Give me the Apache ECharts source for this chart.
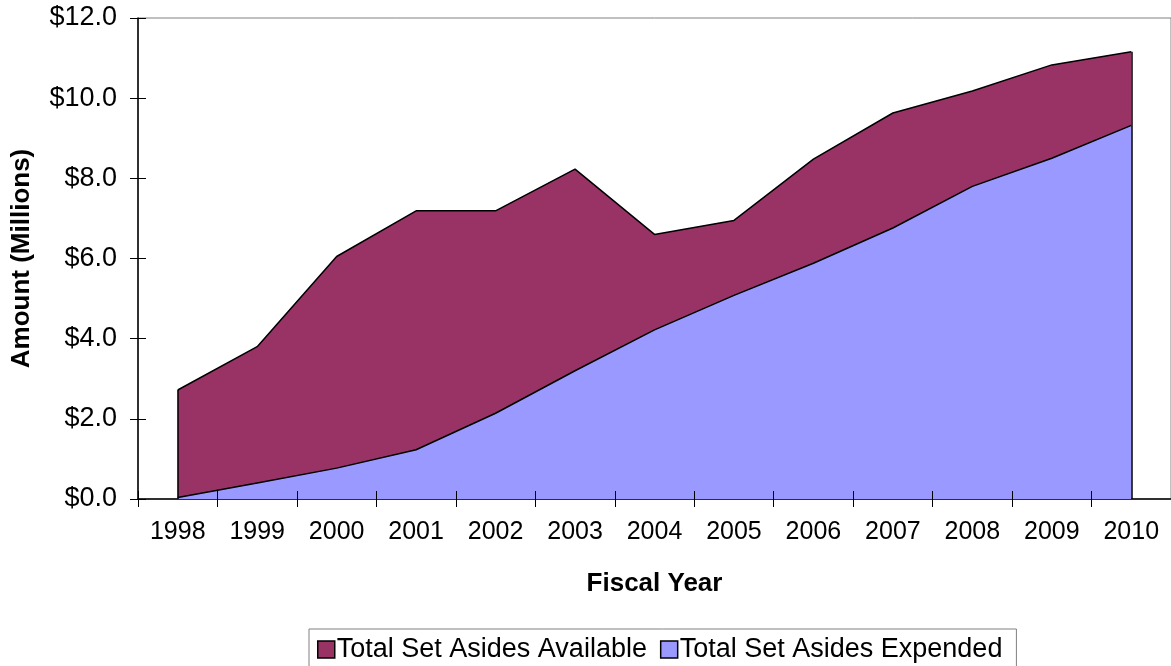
<!DOCTYPE html>
<html>
<head>
<meta charset="utf-8">
<script src="https://cdn.jsdelivr.net/npm/echarts@6/dist/echarts.min.js"></script>
<style>
  html, body { margin: 0; padding: 0; background: #fff; }
  #chart { width: 1171px; height: 666px; }
</style>
</head>
<body>
<div id="chart"></div>
<script>
const years = ['1998', '1999', '2000', '2001', '2002', '2003', '2004', '2005', '2006', '2007', '2008', '2009', '2010']
// amounts in millions of dollars
const available = [2.72, 3.80, 6.05, 7.19, 7.19, 8.23, 6.60, 6.95, 8.48, 9.63, 10.18, 10.83, 11.16]
const expended = [0.04, 0.40, 0.77, 1.23, 2.14, 3.20, 4.22, 5.08, 5.88, 6.76, 7.80, 8.50, 9.32]
const seriesNames = ['Total Set Asides Available', 'Total Set Asides Expended']
const seriesColors = ['#993366', '#9999FF']

const font = 'Liberation Sans, Arial, sans-serif'
const last = years.length - 1

const chart = echarts.init(document.getElementById('chart'))

const option = {
  animation: false,
  color: seriesColors,
  grid: {
    left: 138,
    top: 18,
    width: 1036,
    height: 481,
    show: true,
    borderColor: '#808080',
    borderWidth: 1,
    backgroundColor: 'transparent'
  },
  legend: {
    left: 309,
    top: 629,
    orient: 'horizontal',
    padding: [7, 14, 40, 8],
    itemWidth: 17,
    itemHeight: 17,
    itemGap: 13,
    borderColor: '#808080',
    borderWidth: 1,
    textStyle: { fontFamily: font, fontSize: 27, color: '#000', padding: [0, 0, 0, -3] },
    data: seriesNames.map((name, i) => ({
      name: name,
      icon: 'rect',
      itemStyle: { color: seriesColors[i], borderColor: '#000', borderWidth: 1.5 }
    }))
  },
  xAxis: [
    {
      type: 'category',
      data: years,
      boundaryGap: true,
      name: 'Fiscal Year',
      nameLocation: 'middle',
      nameGap: 72,
      nameTextStyle: { fontFamily: font, fontSize: 26, fontWeight: 'bold', color: '#000' },
      axisLine: { lineStyle: { color: '#000', width: 1.5 } },
      axisTick: { show: true, length: 8, lineStyle: { color: '#000' } },
      axisLabel: { fontFamily: font, fontSize: 25, color: '#000', margin: 21 },
      splitLine: { show: false }
    },
    {
      // inner half of the crossing ticks
      type: 'category',
      data: years,
      position: 'bottom',
      boundaryGap: true,
      z: 10,
      axisLine: { show: false },
      axisTick: { show: true, inside: true, length: 8, lineStyle: { color: '#000' } },
      axisLabel: { show: false },
      splitLine: { show: false }
    }
  ],
  yAxis: [
    {
      type: 'value',
      min: 0,
      max: 12,
      interval: 2,
      name: 'Amount (Millions)',
      nameLocation: 'middle',
      nameRotate: 90,
      nameGap: 103,
      nameTextStyle: { fontFamily: font, fontSize: 26, fontWeight: 'bold', color: '#000' },
      axisLine: { show: true, lineStyle: { color: '#000', width: 1.5 } },
      axisTick: { show: true, length: 8, lineStyle: { color: '#000' } },
      axisLabel: {
        fontFamily: font,
        fontSize: 27,
        color: '#000',
        margin: 21,
        formatter: v => '$' + v.toFixed(1)
      },
      splitLine: { show: false }
    },
    {
      type: 'value',
      min: 0,
      max: 12,
      interval: 2,
      position: 'left',
      z: 10,
      axisLine: { show: false },
      axisTick: { show: true, inside: true, length: 8, lineStyle: { color: '#000' } },
      axisLabel: { show: false },
      splitLine: { show: false }
    }
  ],
  series: [
    {
      name: seriesNames[0],
      type: 'line',
      data: available,
      symbol: 'none',
      lineStyle: { color: '#000', width: 1.5 },
      itemStyle: { color: seriesColors[0] },
      areaStyle: { color: seriesColors[0], opacity: 1 },
      z: 2
    },
    {
      name: seriesNames[1],
      type: 'line',
      data: expended,
      symbol: 'none',
      lineStyle: { color: '#000', width: 1.5 },
      itemStyle: { color: seriesColors[1] },
      areaStyle: { color: seriesColors[1], opacity: 1 },
      z: 3,
      markLine: {
        silent: true,
        symbol: 'none',
        label: { show: false },
        lineStyle: { color: '#000', width: 1.5, type: 'solid' },
        data: [
          [{ coord: [years[0], 0] }, { coord: [years[0], available[0]] }],
          [{ coord: [years[last], 0] }, { coord: [years[last], available[last]] }]
        ]
      }
    }
  ]
}

chart.setOption(option)
</script>
</body>
</html>
